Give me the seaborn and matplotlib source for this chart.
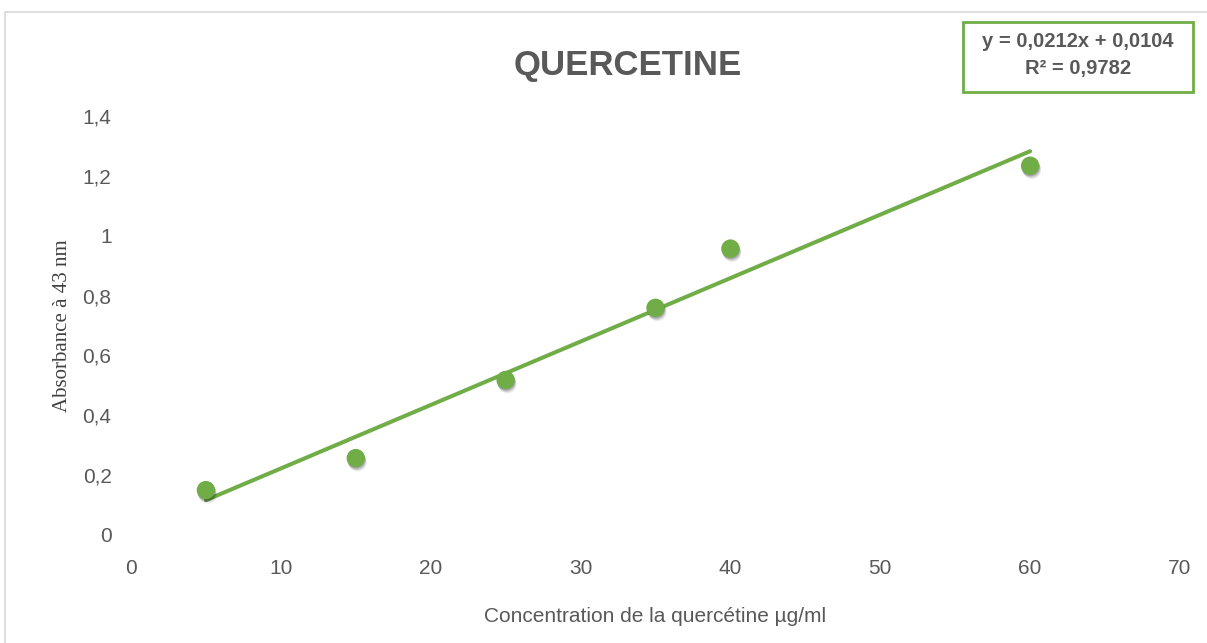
import numpy as np
import pandas as pd
import matplotlib
matplotlib.use("Agg")
import matplotlib.pyplot as plt
import matplotlib.patheffects as pe
from matplotlib.patches import Rectangle
import seaborn as sns

# Data
concentration = [5, 15, 25, 35, 40, 60]
absorbance = [0.150, 0.257, 0.518, 0.759, 0.957, 1.234]
slope = 0.0212
intercept = 0.0104
r2_label = "R² = 0,9782"
eq_label = "y = 0,0212x + 0,0104"
x_ticks = [0, 10, 20, 30, 40, 50, 60, 70]
y_ticks = [0, 0.2, 0.4, 0.6, 0.8, 1.0, 1.2, 1.4]
y_tick_labels = ["0", "0,2", "0,4", "0,6", "0,8", "1", "1,2", "1,4"]

GREEN = "#70AD47"
GRAY = "#595959"

sns.set_theme(style="white")
plt.rcParams['font.family'] = ['Liberation Sans', 'DejaVu Sans']

fig = plt.figure(figsize=(12.07, 6.43), dpi=100)
ax = fig.add_axes([131/1207, 1-535/643, (1180-131)/1207, (535-116)/643])

# outer chart border
fig.patches.append(Rectangle((5/1207, -0.05), 1.1, 1-12/643+0.05, transform=fig.transFigure,
                             fill=False, edgecolor="#D9D9D9", linewidth=1.2, zorder=0))

df = pd.DataFrame({"x": concentration, "y": absorbance})
trend_x = np.array([min(concentration), max(concentration)])
trend = pd.DataFrame({"x": trend_x, "y": slope * trend_x + intercept})

sns.lineplot(data=trend, x="x", y="y", ax=ax, color=GREEN, linewidth=2.9, zorder=2)
sns.scatterplot(data=df, x="x", y="y", ax=ax, color=GREEN, s=175, edgecolor="none", zorder=3)
for coll in ax.collections:
    coll.set_path_effects([
        pe.SimplePatchShadow(offset=(0.3, -1.0), shadow_rgbFace="black", alpha=0.18, rho=0.3),
        pe.SimplePatchShadow(offset=(0.8, -2.0), shadow_rgbFace="black", alpha=0.14, rho=0.3),
        pe.SimplePatchShadow(offset=(1.3, -3.0), shadow_rgbFace="black", alpha=0.08, rho=0.3),
        pe.Normal()])

ax.set_xlim(0, 70)
ax.set_ylim(0, 1.4)
ax.set_xticks(x_ticks)
ax.set_xticklabels([str(t) for t in x_ticks])
ax.set_yticks(y_ticks)
ax.set_yticklabels(y_tick_labels)
ax.tick_params(axis="both", length=0, labelsize=15, colors=GRAY)
ax.tick_params(axis="x", pad=17)
ax.tick_params(axis="y", pad=14)
for s in ax.spines.values():
    s.set_visible(False)
ax.grid(False)

ax.set_xlabel("Concentration de la quercétine µg/ml", fontsize=15, color=GRAY)
ax.set_ylabel("Absorbance à 43 nm", fontsize=15, color="#404040", family=["Liberation Serif", "DejaVu Serif"])
ax.xaxis.set_label_coords(0.5, -(617 - 535) / 419, transform=ax.transAxes)
ax.yaxis.set_label_coords(-(131 - 62) / 1049, 0.5, transform=ax.transAxes)
ax.xaxis.label.set_va("center")
ax.yaxis.label.set_va("center")

fig.text(628/1207, 1-65/643, "QUERCETINE", ha="center", va="center", fontsize=25, fontweight="bold", color=GRAY)

fig.text(1078/1207, 1-55/643, eq_label + "\n" + r2_label, ha="center", va="center", fontsize=14.5,
         fontweight="bold", color=GRAY, linespacing=1.55)
fig.patches.append(Rectangle((963/1207, 1-92/643), (1193-963)/1207, 70/643, transform=fig.transFigure,
                             fill=False, edgecolor=GREEN, linewidth=2))

fig.savefig("out.png", dpi=100)
